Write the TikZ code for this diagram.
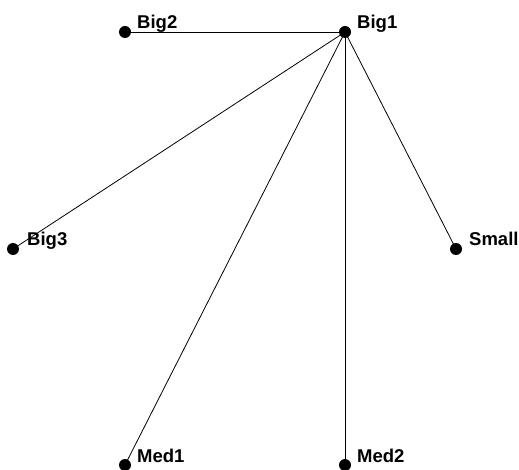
\documentclass[tikz,border=0pt]{standalone}
\usepackage{fontspec}
\setmainfont{Liberation Sans}
\begin{document}
\begin{tikzpicture}[x=1pt,y=-1pt,
  vertex/.style={circle,fill=black,inner sep=0pt,minimum size=12pt},
  vlabel/.style={anchor=base west,inner sep=0pt,font=\fontsize{18.5}{21}\selectfont\bfseries},
  edge/.style={draw=black,line width=0.8pt}]
\useasboundingbox (0,0) rectangle (519,470);
% vertices
\node[vertex] (big1) at (345,32) {};
\node[vertex] (big2) at (125,32) {};
\node[vertex] (big3) at (13,249) {};
\node[vertex] (small) at (456,249) {};
\node[vertex] (med1) at (125,465) {};
\node[vertex] (med2) at (345,465) {};
% edges from the hub
\foreach \v in {big2,big3,small,med1,med2}
  \draw[edge] (big1.center) -- (\v.center);
% labels, set just above and to the right of each vertex
\node[vlabel] (lbig1) at ([shift={(12,-3)}]big1.center) {Big1};
\node[vlabel] (lbig2) at ([shift={(12,-3)}]big2.center) {Big2};
\node[vlabel] (lbig3) at ([shift={(14,-3)}]big3.center) {Big3};
\node[vlabel] (lsmall) at ([shift={(13,-3)}]small.center) {Small};
\node[vlabel] (lmed1) at ([shift={(12,-3)}]med1.center) {Med1};
\node[vlabel] (lmed2) at ([shift={(12,-3)}]med2.center) {Med2};
\end{tikzpicture}
\end{document}
